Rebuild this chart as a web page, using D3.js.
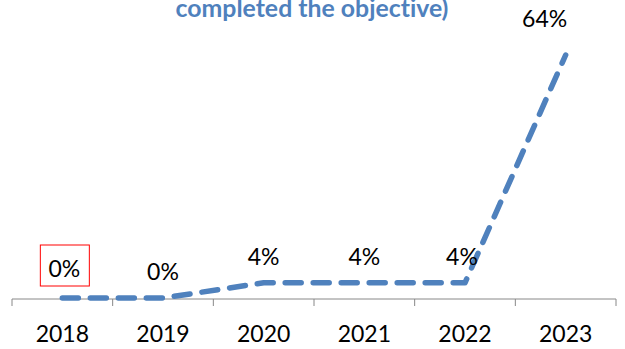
<!DOCTYPE html>
<html><head><meta charset="utf-8">
<script src="https://cdn.jsdelivr.net/npm/d3@7"></script>
<style>body{margin:0;background:#fff}svg{display:block}text{font-variant-ligatures:none}</style>
</head><body>
<svg id="c" width="625" height="349"></svg>
<script>
const categories = ["2018","2019","2020","2021","2022","2023"];
const values = [0, 0, 4, 4, 4, 64];
const valueLabels = ["0%","0%","4%","4%","4%","64%"];
const titleText = "completed the objective)";

const svg = d3.select("#c");
const x = d3.scaleBand().domain(categories).range([12, 616]);
const y = d3.scaleLinear().domain([0, 64]).range([298, 55]);
const font = "Lato, 'Open Sans', sans-serif";

const title = svg.append("text").attr("x", 312).attr("y", 17).attr("text-anchor","middle")
  .attr("font-family", "Lato, 'Open Sans', sans-serif").attr("font-weight","bold")
  .attr("font-size", 20).attr("fill", "#4F81BD").text(titleText);
const tw = title.node().getComputedTextLength();
title.attr("font-size", 20 * 273 / tw);

const ax = svg.append("g").attr("transform","translate(0,299)")
  .call(d3.axisBottom(x).tickSize(0).tickPadding(27));
ax.select(".domain").attr("stroke","#888").attr("stroke-width",1).attr("d","M12,0H616");
ax.selectAll("text").attr("font-family", font).attr("font-size", 23).attr("fill","#000");
const bounds = categories.map(c => x(c)).concat([x.range()[1]]);
svg.selectAll(".tk").data(bounds).enter().append("line")
  .attr("x1", d => d).attr("x2", d => d).attr("y1", 299).attr("y2", 306)
  .attr("stroke","#888").attr("stroke-width",1);

const cx = c => x(c) + x.bandwidth()/2;
const line = d3.line().x((d,i) => cx(categories[i])).y(d => y(d));
svg.append("path").datum(values).attr("d", line).attr("fill","none")
  .attr("stroke","#4F81BD").attr("stroke-width",5.5).attr("stroke-linecap","round")
  .attr("stroke-linejoin","round").attr("stroke-dasharray","16,12");

const last = values.length - 1;
const dxs = values.map((d,i) => i === 0 ? 2 : i === last ? -21 : i === 4 ? -3 : 0);
const dys = values.map((d,i) => i === 0 ? 21 : i === last ? 28 : 18);
svg.selectAll(".lbl").data(values).enter().append("text")
  .attr("x", (d,i) => cx(categories[i]) + dxs[i])
  .attr("y", (d,i) => y(d) - dys[i])
  .attr("text-anchor","middle").attr("font-family", font).attr("font-size", 23)
  .attr("fill","#000").text((d,i) => valueLabels[i]);

// red highlight box around first label
const bx = cx(categories[0]) + dxs[0], by = y(values[0]) - dys[0];
svg.append("rect").attr("x", bx - 24).attr("y", by - 32)
  .attr("width", 49).attr("height", 41)
  .attr("fill","none").attr("stroke","#FF0000").attr("stroke-width",1);
</script>
</body></html>
